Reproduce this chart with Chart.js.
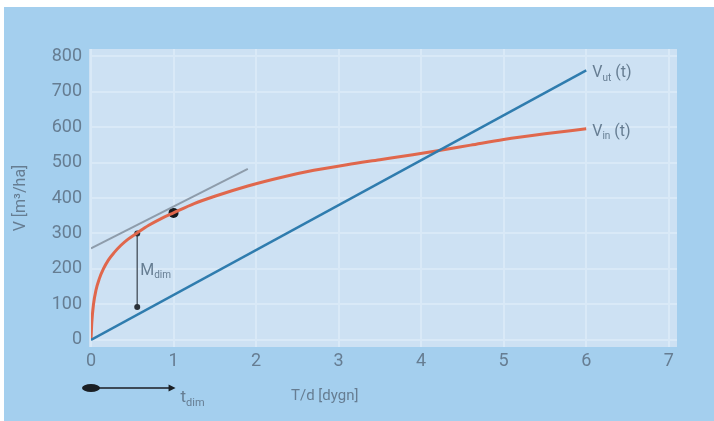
<!DOCTYPE html>
<html>
<head>
<meta charset="utf-8">
<script src="https://cdn.jsdelivr.net/npm/chart.js@4"></script>
<style>
  html, body { margin: 0; padding: 0; background: #fff; }
  #wrap { width: 714px; height: 421px; }
</style>
</head>
<body>
<div id="wrap"><canvas id="chart"></canvas></div>
<script>
// ── Data ─────────────────────────────────────────────────────────
const xTicks = [0, 1, 2, 3, 4, 5, 6, 7];
const yTicks = [0, 100, 200, 300, 400, 500, 600, 700, 800];

// V_in(t): infiltrated volume, steep start then flattening
const vinT = [0, 0.01, 0.03, 0.06, 0.1, 0.15, 0.21, 0.28, 0.36, 0.45, 0.55, 0.7, 0.85, 1.0, 1.25, 1.5, 1.9, 2.3, 2.7, 3.1, 3.5, 3.9, 4.2, 4.6, 5.0, 5.5, 6.0];
const vinV = [0, 50, 100, 140, 172, 200, 225, 246, 266, 284, 300, 323, 342, 358, 384, 405, 434, 458, 478, 494, 508, 522, 533, 549, 565, 581, 595];

// V_ut(t): straight line
const vutT = [0, 6];
const vutV = [0, 760];

// tangent to V_in and the marked point
const tangentT = [0, 1.9];
const tangentV = [258, 482];
const pointT = [1.0];
const pointV = [358];

// M_dim bracket between the curves
const mdimT = [0.56, 0.56];
const mdimV = [93, 300];

const toXY = (xs, ys) => xs.map((x, i) => ({ x: x, y: ys[i] }));

const TEXT = '#667d92';
const FONT = 'Roboto, "Open Sans", sans-serif';

// ── Background + annotations ─────────────────────────────────────
const backdrop = {
  id: 'backdrop',
  beforeDraw(chart) {
    const { ctx, chartArea: a } = chart;
    ctx.save();
    ctx.fillStyle = '#ffffff';
    ctx.fillRect(0, 0, chart.width, chart.height);
    ctx.fillStyle = '#a4cfee';
    ctx.fillRect(4, 7, chart.width - 4, chart.height - 7);
    ctx.fillStyle = '#cde1f3';
    ctx.fillRect(a.left - 2, a.top, a.right - a.left + 2, a.bottom - a.top);
    ctx.restore();
  },
};

function subText(ctx, x, y, main, sub, tail, size) {
  ctx.font = size + 'px ' + FONT;
  ctx.fillText(main, x, y);
  let w = ctx.measureText(main).width;
  ctx.font = Math.round(size * 0.62) + 'px ' + FONT;
  ctx.fillText(sub, x + w, y + size * 0.3);
  w += ctx.measureText(sub).width;
  if (tail) {
    ctx.font = size + 'px ' + FONT;
    ctx.fillText(tail, x + w + 4, y);
  }
}

const labels = {
  id: 'labels',
  afterDraw(chart) {
    const { ctx, chartArea: a } = chart;
    const xs = chart.scales.x, ys = chart.scales.y;
    ctx.save();
    ctx.fillStyle = TEXT;
    ctx.textBaseline = 'middle';
    ctx.textAlign = 'left';

    // curve labels
    subText(ctx, xs.getPixelForValue(vutT[1]) + 6, ys.getPixelForValue(vutV[1]) + 3, 'V', 'ut', '(t)', 16);
    subText(ctx, xs.getPixelForValue(vinT[vinT.length - 1]) + 6, ys.getPixelForValue(vinV[vinV.length - 1]) + 3, 'V', 'in', '(t)', 16);

    // M_dim
    subText(ctx, xs.getPixelForValue(mdimT[0]) + 3, ys.getPixelForValue(195), 'M', 'dim', '', 16);

    // x axis title
    ctx.font = '15px ' + FONT;
    ctx.fillText('T/d [dygn]', 291, a.bottom + 49);

    // t_dim arrow below the axis
    const x0 = xs.getPixelForValue(0), x1 = xs.getPixelForValue(1);
    const yy = a.bottom + 41;
    ctx.strokeStyle = '#3c4956';
    ctx.lineWidth = 2;
    ctx.beginPath();
    ctx.moveTo(x0, yy);
    ctx.lineTo(x1 - 2, yy);
    ctx.stroke();
    ctx.fillStyle = '#1a1f24';
    ctx.beginPath();
    ctx.ellipse(x0, yy, 9, 4, 0, 0, Math.PI * 2);
    ctx.fill();
    ctx.beginPath();
    ctx.moveTo(x1 + 2, yy);
    ctx.lineTo(x1 - 5, yy - 3.5);
    ctx.lineTo(x1 - 5, yy + 3.5);
    ctx.closePath();
    ctx.fill();
    ctx.fillStyle = TEXT;
    subText(ctx, x1 + 7, yy + 10, 't', 'dim', '', 17);
    ctx.restore();
  },
};

// ── Chart ────────────────────────────────────────────────────────
new Chart(document.getElementById('chart'), {
  type: 'scatter',
  data: {
    datasets: [
      { label: 'tangent', data: toXY(tangentT, tangentV), showLine: true, borderColor: '#8e9cab', borderWidth: 2, pointRadius: 0 },
      { label: 'Vut(t)', data: toXY(vutT, vutV), showLine: true, borderColor: '#2f7cae', borderWidth: 2.5, pointRadius: 0 },
      { label: 'Vin(t)', data: toXY(vinT, vinV), showLine: true, borderColor: '#e0674c', borderWidth: 3, pointRadius: 0, cubicInterpolationMode: 'monotone' },
      { label: 'Mdim', data: toXY(mdimT, mdimV), showLine: true, borderColor: '#55616d', borderWidth: 1.5, pointRadius: 3, pointBackgroundColor: '#2a3038', pointBorderWidth: 0 },
      { label: 'point', data: toXY(pointT, pointV), pointRadius: 5, pointBackgroundColor: '#15191d', pointBorderWidth: 0 },
    ],
  },
  options: {
    responsive: true,
    maintainAspectRatio: false,
    animation: false,
    layout: { padding: { left: 4, top: 49, right: 37, bottom: 0 } },
    plugins: { legend: { display: false }, tooltip: { enabled: false } },
    scales: {
      x: {
        type: 'linear',
        min: 0,
        max: 7.1,
        afterBuildTicks: (s) => { s.ticks = xTicks.map(v => ({ value: v })); },
        afterFit: (s) => { s.height = 74; },
        ticks: { color: TEXT, font: { family: FONT, size: 18 }, padding: 4 },
        grid: { color: '#d9e9f7', lineWidth: 2, drawTicks: false },
        border: { display: false },
      },
      y: {
        min: -20,
        max: 820,
        afterBuildTicks: (s) => { s.ticks = yTicks.map(v => ({ value: v })); },
        afterFit: (s) => { s.width = 87; },
        ticks: { color: TEXT, font: { family: FONT, size: 18 }, padding: 9 },
        grid: { color: '#d9e9f7', lineWidth: 2, drawTicks: false },
        border: { display: false },
        title: { display: true, text: 'V [m³/ha]', color: TEXT, font: { family: FONT, size: 16 }, padding: { top: 7, bottom: 0 } },
      },
    },
  },
  plugins: [backdrop, labels],
});
</script>
</body>
</html>
